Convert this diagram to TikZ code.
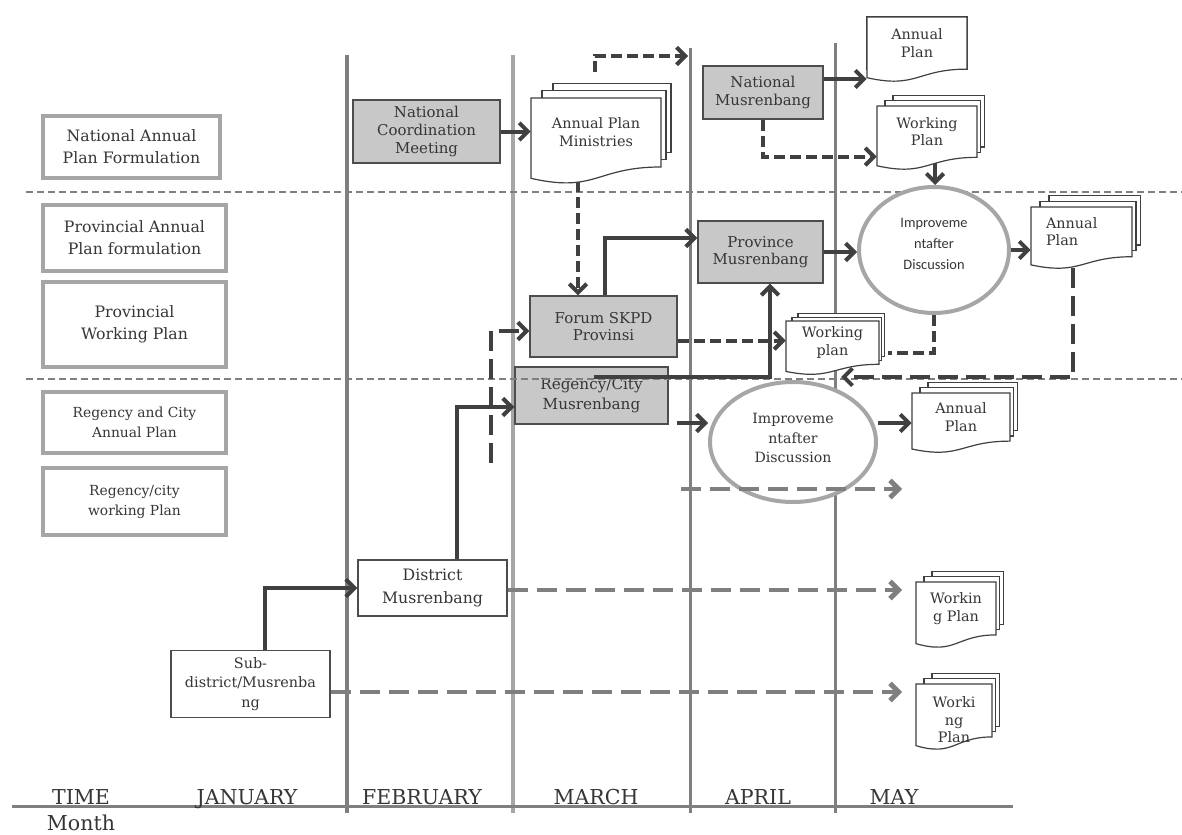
\documentclass[tikz,border=0pt]{standalone}
\usepackage{fontspec}
\setmainfont{DejaVu Serif}
\newfontfamily\sansf{Carlito}
\usetikzlibrary{arrows.meta,calc,shapes.geometric}
\pgfdeclarelayer{back}
\pgfdeclarelayer{low}
\pgfdeclarelayer{mid}
\pgfdeclarelayer{front}
\pgfsetlayers{back,low,mid,main,front}
\definecolor{txt}{HTML}{363636}
\definecolor{dk}{HTML}{404040}
\definecolor{gm}{HTML}{7F7F7F}
\definecolor{gl}{HTML}{A6A6A6}
\definecolor{boxfill}{HTML}{C8C8C8}
\definecolor{boxedge}{HTML}{4D4D4D}
\tikzset{
  sz/.style 2 args={minimum width={#1*0.75pt}, minimum height={#2*0.75pt}},
  arr/.style={draw=dk, line width=3pt, -{Straight Barb[length=6.5pt,width=13pt]}},
  darr/.style={arr, dash pattern=on 8.25pt off 3.75pt},
  dline/.style={draw=dk, line width=3pt, dash pattern=on 8.25pt off 3.75pt},
  ldarr/.style={arr, dash pattern=on 15pt off 6pt},
  garr/.style={draw=gm, line width=3.6pt, dash pattern=on 15pt off 6.75pt, -{Straight Barb[length=6.5pt,width=13pt]}},
  sep/.style={draw=gm, line width=1.1pt, dash pattern=on 5.25pt off 3pt},
  lab/.style={draw=gl, line width=3pt, fill=white, text=txt, align=center, inner sep=0pt, font=\fontsize{11.8}{16.5}\selectfont},
  labs/.style={lab, font=\fontsize{10.4}{15}\selectfont},
  proc/.style={draw=boxedge, line width=1.1pt, fill=boxfill, text=txt, align=center, inner sep=0pt, font=\fontsize{11.2}{13.2}\selectfont},
  wproc/.style={proc, fill=white},
  ell/.style={ellipse, draw=gl, line width=3pt, fill=white, inner sep=0pt},
  elltext/.style={text=txt, align=center, inner sep=0pt},
  docedge/.style={draw=dk, line width=0.9pt, fill=white},
  doctext/.style={text=txt, align=center, inner sep=0pt, font=\fontsize{10.8}{13.2}\selectfont},
  month/.style={text=txt, anchor=base, inner sep=0pt, font=\fontsize{15.4}{18}\selectfont},
  mline/.style={draw=gm, line width=2.25pt},
}
% #1 node options, #2 name, #3 x, #4 y, #5 w, #6 h, #7 page offset, #8 text
\newcommand\mdoc[8][]{%
  \foreach \k in {2,1}{%
    \filldraw[docedge] ({#3+\k*#7},{#4-\k*0.65*#7}) rectangle ({#3+#5+\k*0.45*#7},{#4+0.802*#6-\k*0.65*#7});
  }%
  \filldraw[docedge] (#3,#4) -- ++(#5,0) -- ++(0,{0.802*#6}) .. controls +({-0.5*#5},0) and +({0.5*#5},{0.173*#6}) .. (#3,{#4+0.934*#6}) -- cycle;
  \node[doctext, minimum width={#5*0.75pt}, minimum height={0.8*#6*0.75pt}, #1] (#2) at ({#3+0.5*#5},{#4+0.4*#6}) {#8};
}
\begin{document}
\begin{tikzpicture}[x=0.75pt, y=-0.75pt]
\useasboundingbox (0,0) rectangle (1182,835);
\begin{pgfonlayer}{back}
  \fill[white] (0,0) rectangle (1182,835);
  \draw[mline, line width=3pt] (347,55) -- (347,813);
  \draw[mline, draw=gl, line width=2.6pt] (513,55) -- (513,813);
  \draw[mline] (690,48) -- (690,813);
  \draw[mline] (835,43) -- (835,813);
  \draw[mline] (12,806) -- (1013,806);
\end{pgfonlayer}

% month labels
\node[month] (tTime) at (81,804) {TIME};
\node[month] (tMonth) at (81,830) {Month};
\node[month] (tJan) at (247,804) {JANUARY};
\node[month] (tFeb) at (422,804) {FEBRUARY};
\node[month] (tMar) at (596,804) {MARCH};
\node[month] (tApr) at (758,804) {APRIL};
\node[month] (tMay) at (894,804) {MAY};

% row labels
\node[lab, sz={177}{62}] (L1) at (131.5,147) {National Annual\\Plan Formulation};
\node[lab, sz={183}{66}] (L2) at (134.5,238) {Provincial Annual\\Plan formulation};
\node[lab, sz={183}{85}] (L3) at (134.5,324.5) {Provincial\\Working Plan};
\node[labs, sz={183}{61}] (L4) at (134.5,422.5) {Regency and City\\Annual Plan};
\node[labs, sz={183}{67}] (L5) at (134.5,501.5) {Regency/city\\working Plan};

% process boxes
\node[proc, sz={147}{63}] (ncm) at (426.5,131.5) {National\\Coordination\\Meeting};
\node[proc, sz={120}{53}] (natmus) at (763,92.5) {National\\Musrenbang};
\node[proc, sz={147}{61}] (forum) at (603.5,326.5) {Forum SKPD\\Provinsi};
\node[proc, sz={125}{62}] (provmus) at (760.5,252) {Province\\Musrenbang};
\begin{pgfonlayer}{low}
\node[proc, sz={153}{57}, font=\fontsize{11.4}{15}\selectfont] (regmus) at (591.5,395.5) {Regency/City\\Musrenbang};
\end{pgfonlayer}
\node[wproc, sz={149}{56}, font=\fontsize{11.8}{17}\selectfont] (district) at (432.5,588) {District\\Musrenbang};
\node[wproc, sz={159}{67}, font=\fontsize{10.8}{14.6}\selectfont] (sub) at (250.5,684) {Sub-\\district/Musrenba\\ng};

% documents
\mdoc{apm}{531}{98}{130}{86}{11}{Annual Plan\\Ministries}
\mdoc{atop}{867}{17}{100}{65}{0}{Annual\\Plan}
\mdoc{wpt}{877}{106}{100}{64}{8}{Working\\Plan}
\mdoc{wpm}{786}{321}{93}{54}{6}{Working\\plan}
\mdoc[text width={71*0.75pt}, align=left]{apr}{1031}{207}{101}{62}{9}{Annual\\Plan}
\mdoc{alow}{912}{393}{98}{60}{8}{Annual\\Plan}
\mdoc{wpb1}{916}{582}{80}{66}{8}{Workin\\g Plan}
\mdoc[yshift=-7pt]{wpb2}{916}{684}{76}{66}{8}{Worki\\ng\\Plan}

% ellipses
\node[ell, sz={150}{126}] (ell1) at (934,250) {};
\node[elltext, font=\sansf\fontsize{10.8}{15.75}\selectfont] (ell1t) at (934,244) {Improveme\\ntafter\\Discussion};
\node[ell, sz={166}{120}] (ell2) at (793,442) {};
\node[elltext, font=\fontsize{10.6}{14.6}\selectfont] (ell2t) at (793,438) {Improveme\\ntafter\\Discussion};

% free coordinates
\coordinate (c2s) at (595,72);
\coordinate (c2e) at (688,56);
\coordinate (c3s) at (578,181);
\coordinate (c6s) at (935,163);
\coordinate (c9s) at (1073,268);
\coordinate (c9e) at (841,377);
\coordinate (c13s) at (491,463);
\coordinate (c17s) at (681,489);
\coordinate (c17e) at (902,489);
\coordinate (endx) at (902,0);
\coordinate (c4s) at ($(natmus.east)+(0,-13.5)$);
\coordinate (c15s) at ($(regmus.east)+(8,27.5)$);
\coordinate (c16e) at ($(alow.west)+(0,6)$);
\coordinate (c18s) at ($(district.east)+(0,2)$);
\coordinate (c19s) at ($(sub.east)+(0,8)$);

\begin{pgfonlayer}{mid}
  \draw[sep] (26,192) -- (1182,192);
  \draw[sep] (26,379) -- (1182,379);
  \draw[arr] (ncm.east) -- (ncm.east -| apm.west);
  \draw[darr] (c2s) |- (c2e);
  \draw[darr] (c3s) -- (c3s |- forum.north);
  \draw[arr] (c4s) -- (c4s -| atop.west);
  \draw[darr] (natmus.south) |- ($(wpt.west)+(0,25)$);
  \draw[arr] (c6s) -- (c6s |- ell1.north);
  \draw[arr] (provmus.east) -- (provmus.east -| ell1.west);
  \draw[arr] (ell1.east) -- (ell1.east -| apr.west);
  \draw[ldarr] (c9s) |- (c9e);
  \draw[dline] (ell1.south) |- ($(wpm.east)+(9,10)$);
  \draw[darr] ($(forum.east |- wpm.west)+(0,-2)$) -- ($(wpm.west)+(0,-2)$);
  \draw[arr] ($(regmus.north)+(2.5,11)$) -| ($(provmus.south)+(9.5,0)$);
  \draw[ldarr] (c13s) |- ($(forum.west)+(0,4.5)$);
  \draw[arr] ($(district.north)+(24.5,0)$) |- ($(regmus.west)+(0,11.5)$);
  \draw[arr] (c15s) -- (c15s -| ell2.west);
  \draw[arr] (c16e -| ell2.east) -- (c16e);
  \draw[garr] (c18s) -- (c18s -| endx);
  \draw[garr] (c19s) -- (c19s -| endx);
  \draw[arr] ($(sub.north)+(14.5,0)$) |- (district.west);
  \draw[arr] ($(forum.north)+(1.5,0)$) |- ($(provmus.west)+(0,-14)$);
\end{pgfonlayer}
\begin{pgfonlayer}{front}
  \draw[garr] (c17s) -- (c17e);
\end{pgfonlayer}
\end{tikzpicture}
\end{document}
